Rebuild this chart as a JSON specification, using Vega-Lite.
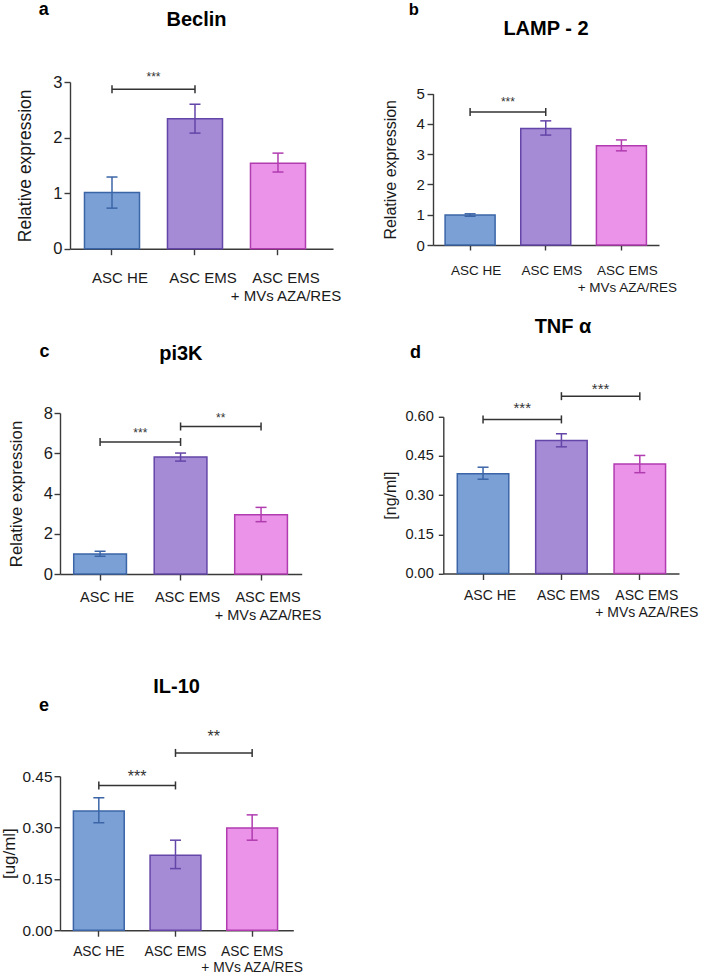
{
  "$schema": "https://vega.github.io/schema/vega-lite/v6.json",
  "padding": {"top": 0, "left": 0, "right": 0, "bottom": 0},
  "config": {
    "view": {"stroke": null},
    "font": "Liberation Sans",
    "axis": {"domainColor": "#3a3a3a", "tickColor": "#3a3a3a", "domainWidth": 1.4, "tickWidth": 1.4, "labelColor": "#1a1a1a", "titleColor": "#1a1a1a", "titleFontWeight": "normal", "grid": false, "labelFont": "Liberation Sans", "titleFont": "Liberation Sans"},
    "title": {"font": "Liberation Sans", "color": "#000000", "fontWeight": "bold"}
  },
  "datasets": {
    "bars": [
      {"p": "a", "g": "ASC HE", "v": 1.01, "lo": 0.73, "hi": 1.29},
      {"p": "a", "g": "ASC EMS", "v": 2.34, "lo": 2.08, "hi": 2.60},
      {"p": "a", "g": "ASC EMS + MVs AZA/RES", "v": 1.54, "lo": 1.38, "hi": 1.72},
      {"p": "b", "g": "ASC HE", "v": 0.99, "lo": 0.95, "hi": 1.03},
      {"p": "b", "g": "ASC EMS", "v": 3.85, "lo": 3.63, "hi": 4.10},
      {"p": "b", "g": "ASC EMS + MVs AZA/RES", "v": 3.28, "lo": 3.11, "hi": 3.47},
      {"p": "c", "g": "ASC HE", "v": 0.99, "lo": 0.88, "hi": 1.13},
      {"p": "c", "g": "ASC EMS", "v": 5.81, "lo": 5.61, "hi": 6.01},
      {"p": "c", "g": "ASC EMS + MVs AZA/RES", "v": 2.95, "lo": 2.60, "hi": 3.31},
      {"p": "d", "g": "ASC HE", "v": 0.382, "lo": 0.361, "hi": 0.407},
      {"p": "d", "g": "ASC EMS", "v": 0.509, "lo": 0.485, "hi": 0.535},
      {"p": "d", "g": "ASC EMS + MVs AZA/RES", "v": 0.419, "lo": 0.386, "hi": 0.452},
      {"p": "e", "g": "ASC HE", "v": 0.348, "lo": 0.314, "hi": 0.387},
      {"p": "e", "g": "ASC EMS", "v": 0.219, "lo": 0.180, "hi": 0.263},
      {"p": "e", "g": "ASC EMS + MVs AZA/RES", "v": 0.299, "lo": 0.263, "hi": 0.337}
    ],
    "sig": [
      {"p": "a", "x1": "ASC HE", "x2": "ASC EMS", "y": 2.87, "ty": 3.01, "t": "***"},
      {"p": "b", "x1": "ASC HE", "x2": "ASC EMS", "y": 4.39, "ty": 4.58, "t": "***"},
      {"p": "c", "x1": "ASC HE", "x2": "ASC EMS", "y": 6.56, "ty": 6.82, "t": "***"},
      {"p": "c", "x1": "ASC EMS", "x2": "ASC EMS + MVs AZA/RES", "y": 7.33, "ty": 7.57, "t": "**"},
      {"p": "d", "x1": "ASC HE", "x2": "ASC EMS", "y": 0.590, "ty": 0.614, "t": "***"},
      {"p": "d", "x1": "ASC EMS", "x2": "ASC EMS + MVs AZA/RES", "y": 0.679, "ty": 0.687, "t": "***"},
      {"p": "e", "x1": "ASC HE", "x2": "ASC EMS", "y": 0.423, "ty": 0.434, "t": "***"},
      {"p": "e", "x1": "ASC EMS", "x2": "ASC EMS + MVs AZA/RES", "y": 0.518, "ty": 0.551, "t": "**"}
    ]
  },
  "spacing": 40,
  "hconcat": [
    {
      "spacing": 54.2,
      "vconcat": [
        {
          "spacing": 39,
          "vconcat": [
            {
              "title": {"text": "a", "anchor": "start", "offset": -8.6, "dx": 22, "fontSize": 18},
              "vconcat": [
                {
                  "width": 273, "height": 166.7,
                  "title": {"text": "Beclin", "frame": "group", "anchor": "middle", "offset": 41.5, "fontSize": 20},
                  "layer": [
                    {"data": {"name": "bars"}, "transform": [{"filter": "datum.p == 'a'"}],
                     "mark": {"type": "bar", "strokeWidth": 1.5},
                     "encoding": {
                       "x": {"field": "g", "type": "nominal", "scale": {"domain": ["ASC HE", "ASC EMS", "ASC EMS + MVs AZA/RES"], "range": [10, 273], "paddingInner": 0.337, "paddingOuter": 0.253, "align": 0.345},
                             "axis": {"title": null, "labelAngle": 0, "labelFontSize": 15, "labelPadding": 15.8, "labelLineHeight": 18, "labelOffset": 8, "tickSize": 6, "labelOverlap": false, "labelLimit": 0, "labelExpr": "datum.value == 'ASC EMS + MVs AZA/RES' ? ['ASC EMS', '+ MVs AZA/RES'] : datum.label"}},
                       "y": {"field": "v", "type": "quantitative", "scale": {"domain": [0, 3], "nice": false},
                             "axis": {"title": "Relative expression", "values": [0, 1, 2, 3], "tickCount": 20, "labelOverlap": false, "format": "d", "labelFontSize": 16.5, "tickSize": 6, "labelPadding": 2, "titleFontSize": 17.5, "titlePadding": 18, "offset": -10}},
                       "fill": {"field": "g", "type": "nominal", "scale": {"domain": ["ASC HE", "ASC EMS", "ASC EMS + MVs AZA/RES"], "range": ["#7aa0d5", "#a58ad5", "#ea93e8"]}, "legend": null},
                       "stroke": {"field": "g", "type": "nominal", "scale": {"domain": ["ASC HE", "ASC EMS", "ASC EMS + MVs AZA/RES"], "range": ["#3b65a7", "#6445a8", "#b13cb0"]}, "legend": null}
                     }},
                    {"data": {"name": "bars"}, "transform": [{"filter": "datum.p == 'a'"}],
                     "mark": {"type": "rule", "strokeWidth": 1.5},
                     "encoding": {
                       "x": {"field": "g", "type": "nominal", "scale": {"domain": ["ASC HE", "ASC EMS", "ASC EMS + MVs AZA/RES"], "range": [10, 273], "paddingInner": 0.337, "paddingOuter": 0.253, "align": 0.345}},
                       "y": {"field": "lo", "type": "quantitative", "scale": {"domain": [0, 3], "nice": false}},
                       "y2": {"field": "hi"},
                       "stroke": {"field": "g", "type": "nominal", "legend": null}
                     }},
                    {"data": {"name": "bars"}, "transform": [{"filter": "datum.p == 'a'"}, {"fold": ["lo", "hi"], "as": ["k", "val"]}],
                     "mark": {"type": "point", "shape": "M-1,0L1,0", "size": 121, "filled": false, "strokeWidth": 1.5, "opacity": 1},
                     "encoding": {
                       "x": {"field": "g", "type": "nominal", "scale": {"domain": ["ASC HE", "ASC EMS", "ASC EMS + MVs AZA/RES"], "range": [10, 273], "paddingInner": 0.337, "paddingOuter": 0.253, "align": 0.345}},
                       "y": {"field": "val", "type": "quantitative", "scale": {"domain": [0, 3], "nice": false}},
                       "stroke": {"field": "g", "type": "nominal", "legend": null}
                     }},
                    {"data": {"name": "sig"}, "transform": [{"filter": "datum.p == 'a'"}],
                     "mark": {"type": "rule", "color": "#333333", "strokeWidth": 1.5},
                     "encoding": {
                       "x": {"field": "x1", "type": "nominal", "scale": {"domain": ["ASC HE", "ASC EMS", "ASC EMS + MVs AZA/RES"], "range": [10, 273], "paddingInner": 0.337, "paddingOuter": 0.253, "align": 0.345}},
                       "x2": {"field": "x2"},
                       "y": {"field": "y", "type": "quantitative", "scale": {"domain": [0, 3], "nice": false}}
                     }},
                    {"data": {"name": "sig"}, "transform": [{"filter": "datum.p == 'a'"}, {"fold": ["x1", "x2"], "as": ["k", "cat"]}],
                     "mark": {"type": "point", "shape": "M0,-1L0,1", "size": 64, "filled": false, "stroke": "#333333", "strokeWidth": 1.5, "opacity": 1},
                     "encoding": {
                       "x": {"field": "cat", "type": "nominal", "scale": {"domain": ["ASC HE", "ASC EMS", "ASC EMS + MVs AZA/RES"], "range": [10, 273], "paddingInner": 0.337, "paddingOuter": 0.253, "align": 0.345}},
                       "y": {"field": "y", "type": "quantitative", "scale": {"domain": [0, 3], "nice": false}}
                     }},
                    {"data": {"name": "sig"}, "transform": [{"filter": "datum.p == 'a'"}],
                     "mark": {"type": "text", "fontSize": 12, "baseline": "alphabetic", "align": "center", "color": "#333333"},
                     "encoding": {
                       "x": {"field": "x1", "type": "nominal", "bandPosition": 1.254, "scale": {"domain": ["ASC HE", "ASC EMS", "ASC EMS + MVs AZA/RES"], "range": [10, 273], "paddingInner": 0.337, "paddingOuter": 0.253, "align": 0.345}},
                       "y": {"field": "ty", "type": "quantitative", "scale": {"domain": [0, 3], "nice": false}},
                       "text": {"field": "t"}
                     }}
                  ]
                }
              ]
            },
            {
              "title": {"text": "c", "anchor": "start", "offset": -17.2, "dx": 31, "fontSize": 18},
              "vconcat": [
                {
                  "width": 241.7, "height": 161,
                  "title": {"text": "pi3K", "frame": "group", "anchor": "middle", "offset": 41, "fontSize": 20},
                  "layer": [
                    {"data": {"name": "bars"}, "transform": [{"filter": "datum.p == 'c'"}],
                     "mark": {"type": "bar", "strokeWidth": 1.5},
                     "encoding": {
                       "x": {"field": "g", "type": "nominal", "scale": {"domain": ["ASC HE", "ASC EMS", "ASC EMS + MVs AZA/RES"], "paddingInner": 0.345, "paddingOuter": 0.174, "align": 0.49},
                             "axis": {"title": null, "labelAngle": 0, "labelFontSize": 14.5, "labelPadding": 10.7, "labelLineHeight": 18, "labelOffset": 7, "tickSize": 6, "labelOverlap": false, "labelLimit": 0, "labelExpr": "datum.value == 'ASC EMS + MVs AZA/RES' ? ['ASC EMS', '+ MVs AZA/RES'] : datum.label"}},
                       "y": {"field": "v", "type": "quantitative", "scale": {"domain": [0, 8], "nice": false},
                             "axis": {"title": "Relative expression", "values": [0, 2, 4, 6, 8], "tickCount": 20, "labelOverlap": false, "format": "d", "labelFontSize": 16.5, "tickSize": 6, "labelPadding": 1.5, "titleFontSize": 16.8, "titlePadding": 17.8}},
                       "fill": {"field": "g", "type": "nominal", "scale": {"domain": ["ASC HE", "ASC EMS", "ASC EMS + MVs AZA/RES"], "range": ["#7aa0d5", "#a58ad5", "#ea93e8"]}, "legend": null},
                       "stroke": {"field": "g", "type": "nominal", "scale": {"domain": ["ASC HE", "ASC EMS", "ASC EMS + MVs AZA/RES"], "range": ["#3b65a7", "#6445a8", "#b13cb0"]}, "legend": null}
                     }},
                    {"data": {"name": "bars"}, "transform": [{"filter": "datum.p == 'c'"}],
                     "mark": {"type": "rule", "strokeWidth": 1.5},
                     "encoding": {
                       "x": {"field": "g", "type": "nominal", "scale": {"domain": ["ASC HE", "ASC EMS", "ASC EMS + MVs AZA/RES"], "paddingInner": 0.345, "paddingOuter": 0.174, "align": 0.49}},
                       "y": {"field": "lo", "type": "quantitative", "scale": {"domain": [0, 8], "nice": false}},
                       "y2": {"field": "hi"},
                       "stroke": {"field": "g", "type": "nominal", "legend": null}
                     }},
                    {"data": {"name": "bars"}, "transform": [{"filter": "datum.p == 'c'"}, {"fold": ["lo", "hi"], "as": ["k", "val"]}],
                     "mark": {"type": "point", "shape": "M-1,0L1,0", "size": 121, "filled": false, "strokeWidth": 1.5, "opacity": 1},
                     "encoding": {
                       "x": {"field": "g", "type": "nominal", "scale": {"domain": ["ASC HE", "ASC EMS", "ASC EMS + MVs AZA/RES"], "paddingInner": 0.345, "paddingOuter": 0.174, "align": 0.49}},
                       "y": {"field": "val", "type": "quantitative", "scale": {"domain": [0, 8], "nice": false}},
                       "stroke": {"field": "g", "type": "nominal", "legend": null}
                     }},
                    {"data": {"name": "sig"}, "transform": [{"filter": "datum.p == 'c'"}],
                     "mark": {"type": "rule", "color": "#333333", "strokeWidth": 1.5},
                     "encoding": {
                       "x": {"field": "x1", "type": "nominal", "scale": {"domain": ["ASC HE", "ASC EMS", "ASC EMS + MVs AZA/RES"], "paddingInner": 0.345, "paddingOuter": 0.174, "align": 0.49}},
                       "x2": {"field": "x2"},
                       "y": {"field": "y", "type": "quantitative", "scale": {"domain": [0, 8], "nice": false}}
                     }},
                    {"data": {"name": "sig"}, "transform": [{"filter": "datum.p == 'c'"}, {"fold": ["x1", "x2"], "as": ["k", "cat"]}],
                     "mark": {"type": "point", "shape": "M0,-1L0,1", "size": 64, "filled": false, "stroke": "#333333", "strokeWidth": 1.5, "opacity": 1},
                     "encoding": {
                       "x": {"field": "cat", "type": "nominal", "scale": {"domain": ["ASC HE", "ASC EMS", "ASC EMS + MVs AZA/RES"], "paddingInner": 0.345, "paddingOuter": 0.174, "align": 0.49}},
                       "y": {"field": "y", "type": "quantitative", "scale": {"domain": [0, 8], "nice": false}}
                     }},
                    {"data": {"name": "sig"}, "transform": [{"filter": "datum.p == 'c'"}],
                     "mark": {"type": "text", "fontSize": 12, "baseline": "alphabetic", "align": "center", "color": "#333333"},
                     "encoding": {
                       "x": {"field": "x1", "type": "nominal", "bandPosition": 1.263, "scale": {"domain": ["ASC HE", "ASC EMS", "ASC EMS + MVs AZA/RES"], "paddingInner": 0.345, "paddingOuter": 0.174, "align": 0.49}},
                       "y": {"field": "ty", "type": "quantitative", "scale": {"domain": [0, 8], "nice": false}},
                       "text": {"field": "t"}
                     }}
                  ]
                }
              ]
            }
          ]
        },
        {
          "title": {"text": "e", "anchor": "start", "offset": -37.6, "dx": 39, "fontSize": 18},
          "vconcat": [
            {
              "width": 233.3, "height": 154,
              "title": {"text": "IL-10", "frame": "group", "anchor": "middle", "offset": 31.3, "fontSize": 20},
              "layer": [
                {"data": {"name": "bars"}, "transform": [{"filter": "datum.p == 'e'"}],
                 "mark": {"type": "bar", "strokeWidth": 1.5},
                 "encoding": {
                   "x": {"field": "g", "type": "nominal", "scale": {"domain": ["ASC HE", "ASC EMS", "ASC EMS + MVs AZA/RES"], "paddingInner": 0.337, "paddingOuter": 0.19, "align": 0.46},
                         "axis": {"title": null, "labelAngle": 0, "labelFontSize": 13.8, "labelPadding": 8.4, "labelLineHeight": 16.3, "labelOffset": 0, "tickSize": 6, "labelOverlap": false, "labelLimit": 0, "labelExpr": "datum.value == 'ASC EMS + MVs AZA/RES' ? ['ASC EMS', '+ MVs AZA/RES'] : datum.label"}},
                   "y": {"field": "v", "type": "quantitative", "scale": {"domain": [0, 0.45], "nice": false},
                         "axis": {"title": "[ug/ml]", "values": [0, 0.15, 0.3, 0.45], "tickCount": 20, "labelOverlap": false, "format": ".2f", "labelFontSize": 15.4, "tickSize": 6, "labelPadding": 2, "titleFontSize": 16.9, "titlePadding": 4}},
                   "fill": {"field": "g", "type": "nominal", "scale": {"domain": ["ASC HE", "ASC EMS", "ASC EMS + MVs AZA/RES"], "range": ["#7aa0d5", "#a58ad5", "#ea93e8"]}, "legend": null},
                   "stroke": {"field": "g", "type": "nominal", "scale": {"domain": ["ASC HE", "ASC EMS", "ASC EMS + MVs AZA/RES"], "range": ["#3b65a7", "#6445a8", "#b13cb0"]}, "legend": null}
                 }},
                {"data": {"name": "bars"}, "transform": [{"filter": "datum.p == 'e'"}],
                 "mark": {"type": "rule", "strokeWidth": 1.5},
                 "encoding": {
                   "x": {"field": "g", "type": "nominal", "scale": {"domain": ["ASC HE", "ASC EMS", "ASC EMS + MVs AZA/RES"], "paddingInner": 0.337, "paddingOuter": 0.19, "align": 0.46}},
                   "y": {"field": "lo", "type": "quantitative", "scale": {"domain": [0, 0.45], "nice": false}},
                   "y2": {"field": "hi"},
                   "stroke": {"field": "g", "type": "nominal", "legend": null}
                 }},
                {"data": {"name": "bars"}, "transform": [{"filter": "datum.p == 'e'"}, {"fold": ["lo", "hi"], "as": ["k", "val"]}],
                 "mark": {"type": "point", "shape": "M-1,0L1,0", "size": 121, "filled": false, "strokeWidth": 1.5, "opacity": 1},
                 "encoding": {
                   "x": {"field": "g", "type": "nominal", "scale": {"domain": ["ASC HE", "ASC EMS", "ASC EMS + MVs AZA/RES"], "paddingInner": 0.337, "paddingOuter": 0.19, "align": 0.46}},
                   "y": {"field": "val", "type": "quantitative", "scale": {"domain": [0, 0.45], "nice": false}},
                   "stroke": {"field": "g", "type": "nominal", "legend": null}
                 }},
                {"data": {"name": "sig"}, "transform": [{"filter": "datum.p == 'e'"}],
                 "mark": {"type": "rule", "color": "#333333", "strokeWidth": 1.5},
                 "encoding": {
                   "x": {"field": "x1", "type": "nominal", "scale": {"domain": ["ASC HE", "ASC EMS", "ASC EMS + MVs AZA/RES"], "paddingInner": 0.337, "paddingOuter": 0.19, "align": 0.46}},
                   "x2": {"field": "x2"},
                   "y": {"field": "y", "type": "quantitative", "scale": {"domain": [0, 0.45], "nice": false}}
                 }},
                {"data": {"name": "sig"}, "transform": [{"filter": "datum.p == 'e'"}, {"fold": ["x1", "x2"], "as": ["k", "cat"]}],
                 "mark": {"type": "point", "shape": "M0,-1L0,1", "size": 64, "filled": false, "stroke": "#333333", "strokeWidth": 1.5, "opacity": 1},
                 "encoding": {
                   "x": {"field": "cat", "type": "nominal", "scale": {"domain": ["ASC HE", "ASC EMS", "ASC EMS + MVs AZA/RES"], "paddingInner": 0.337, "paddingOuter": 0.19, "align": 0.46}},
                   "y": {"field": "y", "type": "quantitative", "scale": {"domain": [0, 0.45], "nice": false}}
                 }},
                {"data": {"name": "sig"}, "transform": [{"filter": "datum.p == 'e'"}],
                 "mark": {"type": "text", "fontSize": 16, "baseline": "alphabetic", "align": "center", "color": "#333333"},
                 "encoding": {
                   "x": {"field": "x1", "type": "nominal", "bandPosition": 1.254, "scale": {"domain": ["ASC HE", "ASC EMS", "ASC EMS + MVs AZA/RES"], "paddingInner": 0.337, "paddingOuter": 0.19, "align": 0.46}},
                   "y": {"field": "ty", "type": "quantitative", "scale": {"domain": [0, 0.45], "nice": false}},
                   "text": {"field": "t"}
                 }}
              ]
            }
          ]
        }
      ]
    },
    {
      "spacing": 21.8,
      "vconcat": [
        {
          "title": {"text": "b", "anchor": "start", "offset": 0.4, "dx": 26, "fontSize": 16.5},
          "vconcat": [
            {
              "width": 226, "height": 163,
              "title": {"text": "LAMP - 2", "frame": "group", "anchor": "middle", "offset": 43.5, "fontSize": 20},
              "layer": [
                {"data": {"name": "bars"}, "transform": [{"filter": "datum.p == 'b'"}],
                 "mark": {"type": "bar", "strokeWidth": 1.5},
                 "encoding": {
                   "x": {"field": "g", "type": "nominal", "scale": {"domain": ["ASC HE", "ASC EMS", "ASC EMS + MVs AZA/RES"], "paddingInner": 0.339, "paddingOuter": 0.163, "align": 0.49},
                         "axis": {"title": null, "labelAngle": 0, "labelFontSize": 13.5, "labelPadding": 13.5, "labelLineHeight": 17, "labelOffset": 6, "tickSize": 5, "labelOverlap": false, "labelLimit": 0, "labelExpr": "datum.value == 'ASC EMS + MVs AZA/RES' ? ['ASC EMS', '+ MVs AZA/RES'] : datum.label"}},
                   "y": {"field": "v", "type": "quantitative", "scale": {"domain": [0, 5], "nice": false, "range": [163, 11.6]},
                         "axis": {"title": "Relative expression", "values": [0, 1, 2, 3, 4, 5], "tickCount": 20, "labelOverlap": false, "format": "d", "labelFontSize": 15, "tickSize": 6, "labelPadding": 2.6, "titleFontSize": 16, "titlePadding": 17.4}},
                   "fill": {"field": "g", "type": "nominal", "scale": {"domain": ["ASC HE", "ASC EMS", "ASC EMS + MVs AZA/RES"], "range": ["#7aa0d5", "#a58ad5", "#ea93e8"]}, "legend": null},
                   "stroke": {"field": "g", "type": "nominal", "scale": {"domain": ["ASC HE", "ASC EMS", "ASC EMS + MVs AZA/RES"], "range": ["#3b65a7", "#6445a8", "#b13cb0"]}, "legend": null}
                 }},
                {"data": {"name": "bars"}, "transform": [{"filter": "datum.p == 'b'"}],
                 "mark": {"type": "rule", "strokeWidth": 1.5},
                 "encoding": {
                   "x": {"field": "g", "type": "nominal", "scale": {"domain": ["ASC HE", "ASC EMS", "ASC EMS + MVs AZA/RES"], "paddingInner": 0.339, "paddingOuter": 0.163, "align": 0.49}},
                   "y": {"field": "lo", "type": "quantitative", "scale": {"domain": [0, 5], "nice": false, "range": [163, 11.6]}},
                   "y2": {"field": "hi"},
                   "stroke": {"field": "g", "type": "nominal", "legend": null}
                 }},
                {"data": {"name": "bars"}, "transform": [{"filter": "datum.p == 'b'"}, {"fold": ["lo", "hi"], "as": ["k", "val"]}],
                 "mark": {"type": "point", "shape": "M-1,0L1,0", "size": 121, "filled": false, "strokeWidth": 1.5, "opacity": 1},
                 "encoding": {
                   "x": {"field": "g", "type": "nominal", "scale": {"domain": ["ASC HE", "ASC EMS", "ASC EMS + MVs AZA/RES"], "paddingInner": 0.339, "paddingOuter": 0.163, "align": 0.49}},
                   "y": {"field": "val", "type": "quantitative", "scale": {"domain": [0, 5], "nice": false, "range": [163, 11.6]}},
                   "stroke": {"field": "g", "type": "nominal", "legend": null}
                 }},
                {"data": {"name": "sig"}, "transform": [{"filter": "datum.p == 'b'"}],
                 "mark": {"type": "rule", "color": "#333333", "strokeWidth": 1.5},
                 "encoding": {
                   "x": {"field": "x1", "type": "nominal", "scale": {"domain": ["ASC HE", "ASC EMS", "ASC EMS + MVs AZA/RES"], "paddingInner": 0.339, "paddingOuter": 0.163, "align": 0.49}},
                   "x2": {"field": "x2"},
                   "y": {"field": "y", "type": "quantitative", "scale": {"domain": [0, 5], "nice": false, "range": [163, 11.6]}}
                 }},
                {"data": {"name": "sig"}, "transform": [{"filter": "datum.p == 'b'"}, {"fold": ["x1", "x2"], "as": ["k", "cat"]}],
                 "mark": {"type": "point", "shape": "M0,-1L0,1", "size": 64, "filled": false, "stroke": "#333333", "strokeWidth": 1.5, "opacity": 1},
                 "encoding": {
                   "x": {"field": "cat", "type": "nominal", "scale": {"domain": ["ASC HE", "ASC EMS", "ASC EMS + MVs AZA/RES"], "paddingInner": 0.339, "paddingOuter": 0.163, "align": 0.49}},
                   "y": {"field": "y", "type": "quantitative", "scale": {"domain": [0, 5], "nice": false, "range": [163, 11.6]}}
                 }},
                {"data": {"name": "sig"}, "transform": [{"filter": "datum.p == 'b'"}],
                 "mark": {"type": "text", "fontSize": 12, "baseline": "alphabetic", "align": "center", "color": "#333333"},
                 "encoding": {
                   "x": {"field": "x1", "type": "nominal", "bandPosition": 1.256, "scale": {"domain": ["ASC HE", "ASC EMS", "ASC EMS + MVs AZA/RES"], "paddingInner": 0.339, "paddingOuter": 0.163, "align": 0.49}},
                   "y": {"field": "ty", "type": "quantitative", "scale": {"domain": [0, 5], "nice": false, "range": [163, 11.6]}},
                   "text": {"field": "t"}
                 }}
              ]
            }
          ]
        },
        {
          "title": {"text": "d", "anchor": "start", "offset": -45.6, "dx": 27.6, "fontSize": 18},
          "vconcat": [
            {
              "width": 246, "height": 156.7,
              "title": {"text": "TNF α", "frame": "group", "anchor": "middle", "offset": 45.5, "dx": 7, "fontSize": 20},
              "layer": [
                {"data": {"name": "bars"}, "transform": [{"filter": "datum.p == 'd'"}],
                 "mark": {"type": "bar", "strokeWidth": 1.5},
                 "encoding": {
                   "x": {"field": "g", "type": "nominal", "scale": {"domain": ["ASC HE", "ASC EMS", "ASC EMS + MVs AZA/RES"], "range": [10.3, 246], "paddingInner": 0.343, "paddingOuter": 0.175, "align": 0.51},
                         "axis": {"title": null, "labelAngle": 0, "labelFontSize": 14, "labelPadding": 9, "labelLineHeight": 16.7, "labelOffset": 7, "tickSize": 6, "labelOverlap": false, "labelLimit": 0, "labelExpr": "datum.value == 'ASC EMS + MVs AZA/RES' ? ['ASC EMS', '+ MVs AZA/RES'] : datum.label"}},
                   "y": {"field": "v", "type": "quantitative", "scale": {"domain": [0, 0.6], "nice": false},
                         "axis": {"title": "[ng/ml]", "values": [0, 0.15, 0.3, 0.45, 0.6], "tickCount": 20, "labelOverlap": false, "format": ".2f", "labelFontSize": 14.6, "tickSize": 5, "labelPadding": 5, "titleFontSize": 16, "titlePadding": 6.5, "offset": -10.3}},
                   "fill": {"field": "g", "type": "nominal", "scale": {"domain": ["ASC HE", "ASC EMS", "ASC EMS + MVs AZA/RES"], "range": ["#7aa0d5", "#a58ad5", "#ea93e8"]}, "legend": null},
                   "stroke": {"field": "g", "type": "nominal", "scale": {"domain": ["ASC HE", "ASC EMS", "ASC EMS + MVs AZA/RES"], "range": ["#3b65a7", "#6445a8", "#b13cb0"]}, "legend": null}
                 }},
                {"data": {"name": "bars"}, "transform": [{"filter": "datum.p == 'd'"}],
                 "mark": {"type": "rule", "strokeWidth": 1.5},
                 "encoding": {
                   "x": {"field": "g", "type": "nominal", "scale": {"domain": ["ASC HE", "ASC EMS", "ASC EMS + MVs AZA/RES"], "range": [10.3, 246], "paddingInner": 0.343, "paddingOuter": 0.175, "align": 0.51}},
                   "y": {"field": "lo", "type": "quantitative", "scale": {"domain": [0, 0.6], "nice": false}},
                   "y2": {"field": "hi"},
                   "stroke": {"field": "g", "type": "nominal", "legend": null}
                 }},
                {"data": {"name": "bars"}, "transform": [{"filter": "datum.p == 'd'"}, {"fold": ["lo", "hi"], "as": ["k", "val"]}],
                 "mark": {"type": "point", "shape": "M-1,0L1,0", "size": 121, "filled": false, "strokeWidth": 1.5, "opacity": 1},
                 "encoding": {
                   "x": {"field": "g", "type": "nominal", "scale": {"domain": ["ASC HE", "ASC EMS", "ASC EMS + MVs AZA/RES"], "range": [10.3, 246], "paddingInner": 0.343, "paddingOuter": 0.175, "align": 0.51}},
                   "y": {"field": "val", "type": "quantitative", "scale": {"domain": [0, 0.6], "nice": false}},
                   "stroke": {"field": "g", "type": "nominal", "legend": null}
                 }},
                {"data": {"name": "sig"}, "transform": [{"filter": "datum.p == 'd'"}],
                 "mark": {"type": "rule", "color": "#333333", "strokeWidth": 1.5},
                 "encoding": {
                   "x": {"field": "x1", "type": "nominal", "scale": {"domain": ["ASC HE", "ASC EMS", "ASC EMS + MVs AZA/RES"], "range": [10.3, 246], "paddingInner": 0.343, "paddingOuter": 0.175, "align": 0.51}},
                   "x2": {"field": "x2"},
                   "y": {"field": "y", "type": "quantitative", "scale": {"domain": [0, 0.6], "nice": false}}
                 }},
                {"data": {"name": "sig"}, "transform": [{"filter": "datum.p == 'd'"}, {"fold": ["x1", "x2"], "as": ["k", "cat"]}],
                 "mark": {"type": "point", "shape": "M0,-1L0,1", "size": 64, "filled": false, "stroke": "#333333", "strokeWidth": 1.5, "opacity": 1},
                 "encoding": {
                   "x": {"field": "cat", "type": "nominal", "scale": {"domain": ["ASC HE", "ASC EMS", "ASC EMS + MVs AZA/RES"], "range": [10.3, 246], "paddingInner": 0.343, "paddingOuter": 0.175, "align": 0.51}},
                   "y": {"field": "y", "type": "quantitative", "scale": {"domain": [0, 0.6], "nice": false}}
                 }},
                {"data": {"name": "sig"}, "transform": [{"filter": "datum.p == 'd'"}],
                 "mark": {"type": "text", "fontSize": 15, "baseline": "alphabetic", "align": "center", "color": "#333333"},
                 "encoding": {
                   "x": {"field": "x1", "type": "nominal", "bandPosition": 1.261, "scale": {"domain": ["ASC HE", "ASC EMS", "ASC EMS + MVs AZA/RES"], "range": [10.3, 246], "paddingInner": 0.343, "paddingOuter": 0.175, "align": 0.51}},
                   "y": {"field": "ty", "type": "quantitative", "scale": {"domain": [0, 0.6], "nice": false}},
                   "text": {"field": "t"}
                 }}
              ]
            }
          ]
        }
      ]
    }
  ]
}
